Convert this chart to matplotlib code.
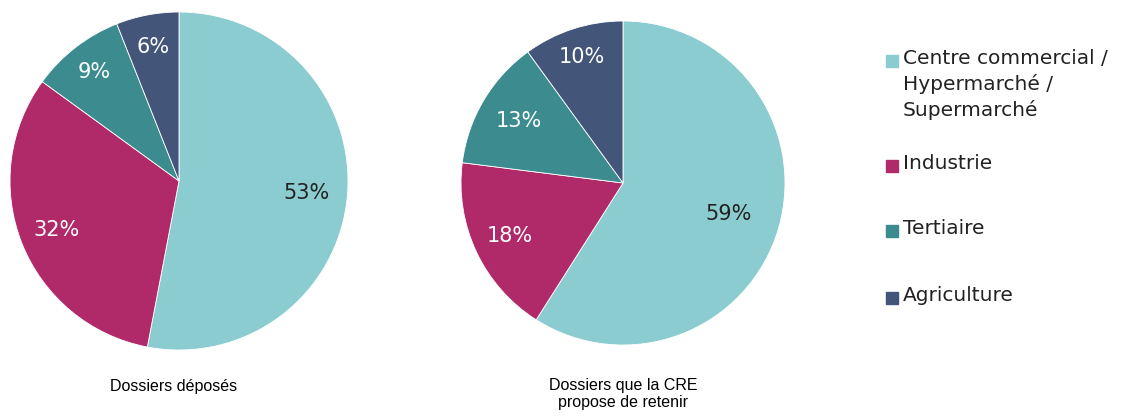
import numpy as np
import matplotlib.pyplot as plt
from matplotlib.patches import Rectangle

categories = ["Centre commercial /\nHypermarché /\nSupermarché", "Industrie", "Tertiaire", "Agriculture"]
deposes = [53, 32, 9, 6]
retenus = [59, 18, 13, 10]
titles = ["Dossiers déposés", "Dossiers que la CRE\npropose de retenir"]
colors = ["#8acccf", "#b02a6a", "#3c8c8f", "#43567a"]
label_colors = ["#222222", "white", "white", "white"]

W, H = 1123, 416
fig = plt.figure(figsize=(W / 100, H / 100), dpi=100)

def pie_axes(cx, cy, r):
    return fig.add_axes([(cx - r) / W, (H - cy - r) / H, 2 * r / W, 2 * r / H])

def draw_pie(ax, values, dists):
    wedges, texts = ax.pie(values, colors=colors, startangle=90, counterclock=False,
                           wedgeprops=dict(edgecolor="white", linewidth=0.6))
    for w, v, c, d in zip(wedges, values, label_colors, dists):
        ang = np.deg2rad((w.theta1 + w.theta2) / 2)
        ax.text(d * np.cos(ang), d * np.sin(ang), f"{v}%", ha="center", va="center",
                color=c, fontsize=15, family="DejaVu Sans")
    ax.set_xlim(-1, 1)
    ax.set_ylim(-1, 1)
    ax.set_aspect("equal")
    ax.axis("off")

ax1 = pie_axes(179, 181, 169)
draw_pie(ax1, deposes, [0.76, 0.78, 0.82, 0.81])
ax2 = pie_axes(623, 183, 162)
draw_pie(ax2, retenus, [0.68, 0.77, 0.75, 0.82])

fig.text(174 / W, 1 - 386 / H, titles[0], ha="center", va="center", fontsize=11.5,
         family="Liberation Sans")
fig.text(623 / W, 1 - 394 / H, titles[1], ha="center", va="center", fontsize=11.5,
         family="Liberation Sans", linespacing=1.2)

# legend drawn by hand (uneven spacing like the original)
leg_y = [61, 166, 231, 298]
for lab, col, y in zip(categories, colors, leg_y):
    fig.patches.append(Rectangle((886 / W, 1 - (y + 6) / H), 12 / W, 12 / H,
                                 transform=fig.transFigure, color=col))
    fig.text(903 / W, 1 - (y - 12) / H, lab, ha="left", va="top", fontsize=14.5,
             color="#222222", linespacing=1.38, family="DejaVu Sans")

fig.savefig("out.png", dpi=100)
